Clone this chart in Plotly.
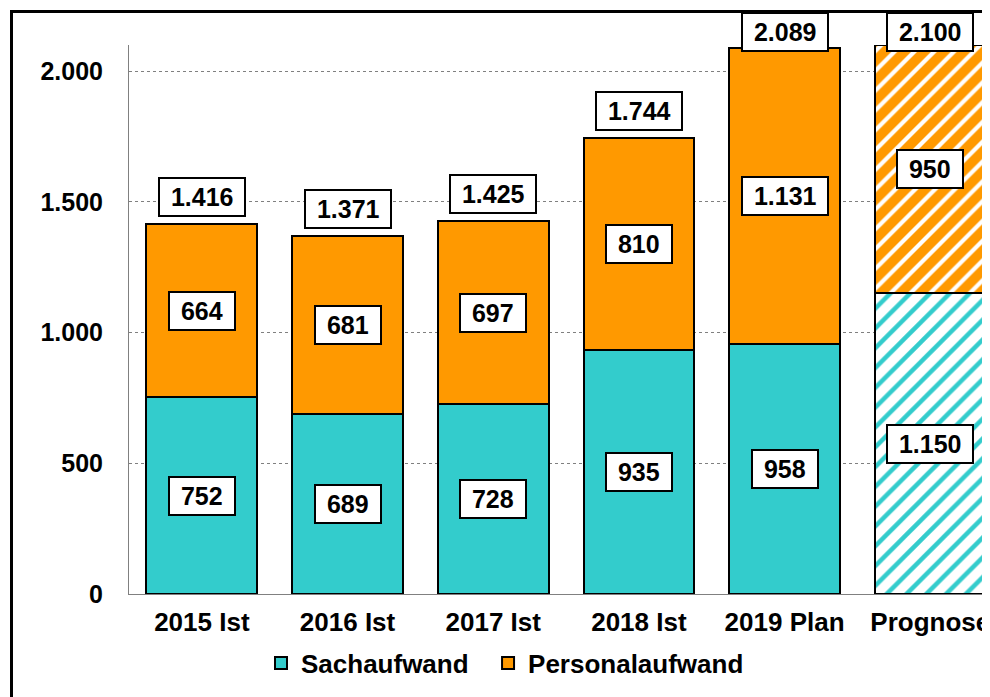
import plotly.graph_objects as go

categories = ["2015 Ist", "2016 Ist", "2017 Ist", "2018 Ist", "2019 Plan", "Prognose"]
sachaufwand = [752, 689, 728, 935, 958, 1150]
personalaufwand = [664, 681, 697, 810, 1131, 950]
totals = [1416, 1371, 1425, 1744, 2089, 2100]
forecast_flags = [False, False, False, False, False, True]
y_ticks = [0, 500, 1000, 1500, 2000]

TEAL = "#33CCCC"
ORANGE = "#FF9900"
FONT = "Arial, Liberation Sans, sans-serif"

# page body has an 8px margin; compensate so the window matches the reference
OFF = 8
W, H = 990 - OFF, 697 - OFF
ML, MR, MT, MB = 129 - OFF, 0, 45 - OFF, 103
PW, PH = W - ML - MR, H - MT - MB
YMAX = 2100


def de(v):
    return f"{v:,}".replace(",", ".")


def box(t):
    return "\u00a0" + t + "\u00a0"


fig = go.Figure()

act_idx = [i for i, f in enumerate(forecast_flags) if not f]
fc_idx = [i for i, f in enumerate(forecast_flags) if f]

line = dict(color="black", width=2)
NBSP2 = "\u00a0\u00a0"

fig.add_trace(go.Bar(
    name="Sachaufwand" + NBSP2, x=[categories[i] for i in act_idx], y=[sachaufwand[i] for i in act_idx],
    marker=dict(color=TEAL, line=line), legendgroup="s"))
fig.add_trace(go.Bar(
    name="Sachaufwand", x=[categories[i] for i in fc_idx], y=[sachaufwand[i] for i in fc_idx],
    marker=dict(color=TEAL, line=line,
                pattern=dict(shape="/", fillmode="replace", fgcolor=TEAL, bgcolor="white",
                             size=14, solidity=0.32)),
    legendgroup="s", showlegend=False))
fig.add_trace(go.Bar(
    name="Personalaufwand", x=[categories[i] for i in act_idx], y=[personalaufwand[i] for i in act_idx],
    marker=dict(color=ORANGE, line=line), legendgroup="p"))
fig.add_trace(go.Bar(
    name="Personalaufwand", x=[categories[i] for i in fc_idx], y=[personalaufwand[i] for i in fc_idx],
    marker=dict(color=ORANGE, line=line,
                pattern=dict(shape="/", fillmode="replace", fgcolor="white", bgcolor=ORANGE,
                             size=14, solidity=0.3)),
    legendgroup="p", showlegend=False))

ann_font = dict(family=FONT, size=25, color="black", weight="bold")
ann_common = dict(showarrow=False, font=ann_font, bgcolor="white", bordercolor="black",
                  borderwidth=2, borderpad=4, xref="x")

TOP_PX = 12 - OFF  # top edge of clamped label boxes, in figure pixels
for i, c in enumerate(categories):
    s, p, t = sachaufwand[i], personalaufwand[i], totals[i]
    fig.add_annotation(x=c, y=s / 2, yref="y", text=box(de(s)), **ann_common)
    fig.add_annotation(x=c, y=s + p / 2, yref="y", text=box(de(p)), **ann_common)
    top_px = MT + PH * (1 - t / YMAX)
    if top_px - 7 - 40 >= TOP_PX:
        fig.add_annotation(x=c, y=t, yref="y", yanchor="bottom", yshift=7,
                           text=box(de(t)), **ann_common)
    else:
        fig.add_annotation(x=c, y=1 + (MT - TOP_PX) / PH, yref="paper", yanchor="top",
                           text=box(de(t)), **ann_common)

# outer frame
FRAME = 11.5 - OFF
fig.add_shape(type="rect", xref="paper", yref="paper",
              x0=(FRAME - ML) / PW, x1=1.5, y0=-1, y1=1 + (MT - FRAME) / PH,
              line=dict(color="black", width=3), fillcolor="rgba(0,0,0,0)", layer="above")

fig.update_layout(
    width=W, height=H,
    margin=dict(l=ML, r=MR, t=MT, b=MB),
    barmode="stack", bargap=0.24,
    separators=",.",
    plot_bgcolor="white", paper_bgcolor="white",
    font=dict(family=FONT, size=25, color="black"),
    showlegend=True,
    legend=dict(orientation="h", x=(253 - ML) / PW, xanchor="left", y=-0.126, yanchor="middle",
                font=dict(family=FONT, size=26, color="black", weight="bold"),
                itemwidth=30, traceorder="normal"),
    xaxis=dict(type="category", categoryorder="array", categoryarray=categories,
               range=[-0.5, 5.41], showline=True, linecolor="#808080", linewidth=1,
               showgrid=False, ticks="", tickfont=dict(family=FONT, size=26, color="black", weight="bold"),
               ticklabelstandoff=5),
    yaxis=dict(range=[0, YMAX], tickvals=y_ticks, tickformat=",d",
               showline=True, linecolor="#808080", linewidth=1,
               showgrid=True, gridcolor="#808080", gridwidth=1, griddash="dot",
               zeroline=False, ticks="",
               tickfont=dict(family=FONT, size=25, color="black", weight="bold"),
               ticklabelstandoff=20),
)

fig.write_html("out.html")
